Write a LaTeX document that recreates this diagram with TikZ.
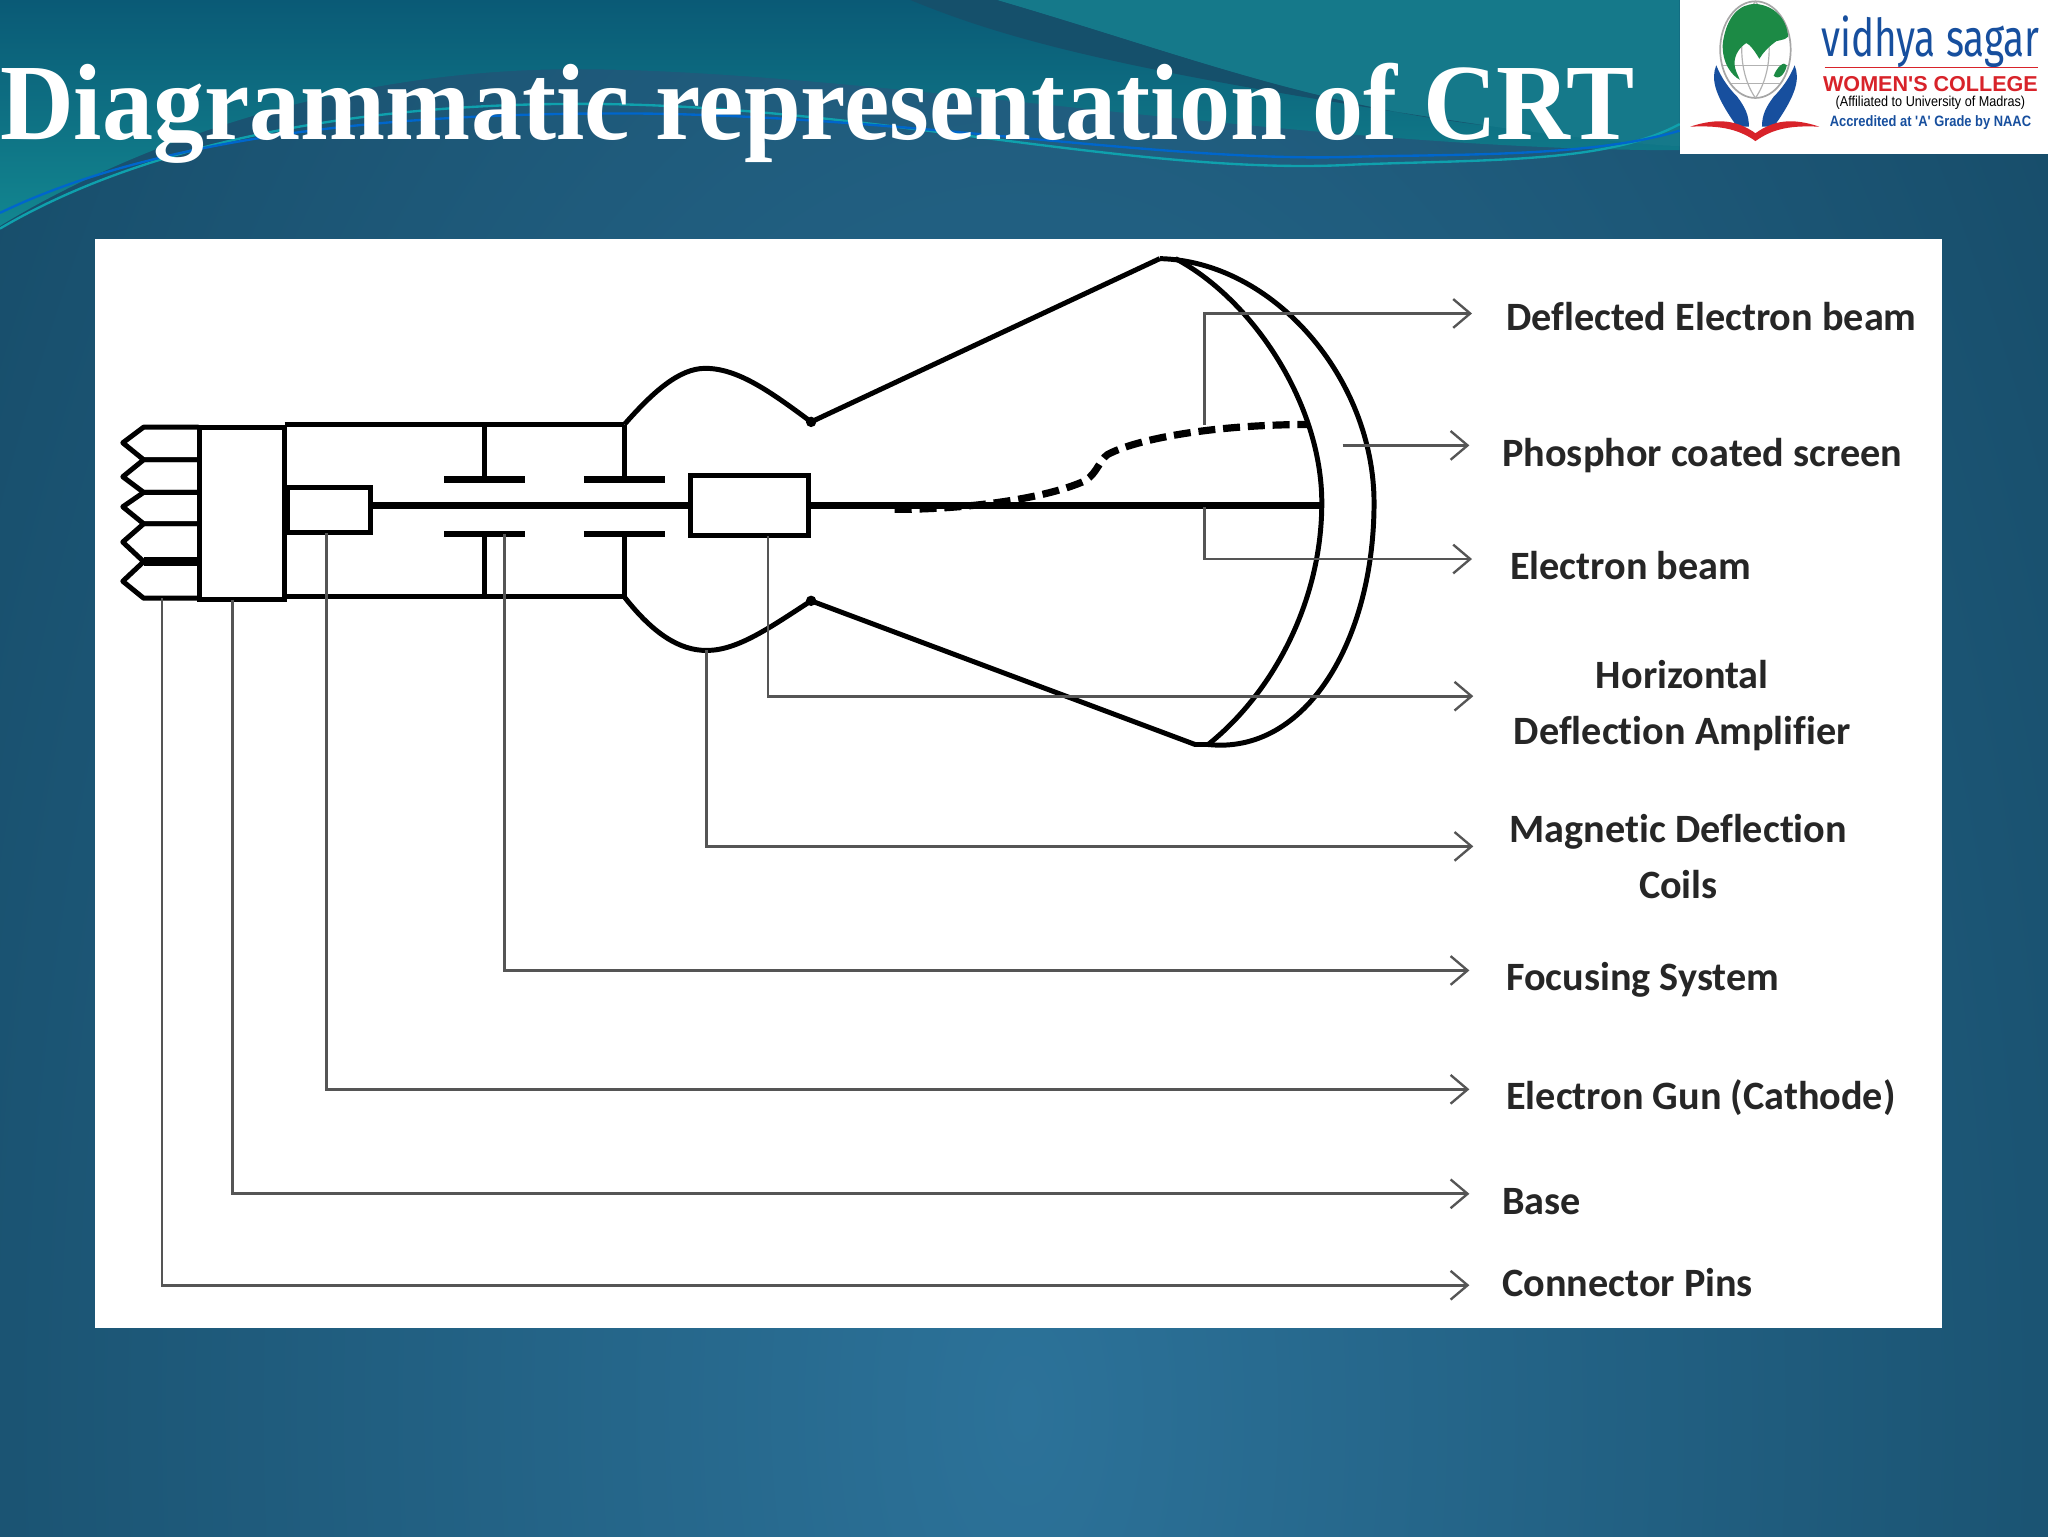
\documentclass[tikz,border=0pt]{standalone}
\usepackage{fontspec}
\setmainfont{Liberation Serif}
\setsansfont[Ligatures=NoCommon]{Carlito}
\newfontfamily\logosans{Liberation Sans}
\newfontfamily\logothin{Fira Sans}
\usetikzlibrary{arrows.meta}
\definecolor{deepteal}{HTML}{0C3A52}
\definecolor{midblue}{HTML}{2C7299}
\definecolor{wavetop}{HTML}{0A5A76}
\definecolor{wavemid}{HTML}{0C6F8C}
\definecolor{wavelow}{HTML}{128690}
\definecolor{bandteal}{HTML}{15798A}
\definecolor{wavedark}{HTML}{15506B}
\definecolor{globegreen}{HTML}{1C8A45}
\definecolor{handblue}{HTML}{174F9E}
\definecolor{bookred}{HTML}{D8232A}
\definecolor{leadergray}{HTML}{555555}
\tikzset{
    tube/.style={draw=black, line width=3.8pt, line join=round},
    plate/.style={draw=black, line width=5pt},
    partbox/.style={draw=black, line width=3.8pt, fill=white, inner sep=0pt},
    leader/.style={draw=leadergray, line width=2.2pt, -{Straight Barb[length=13pt,width=22pt,line width=1.8pt]}},
    partname/.style={font=\sffamily\bfseries\fontsize{30.8}{43}\selectfont, text=black!85, align=center, inner sep=0pt},
}
\begin{document}
\begin{tikzpicture}[x=1pt,y=-1pt]
        \useasboundingbox (0,0) rectangle (1568,1176);
        \begin{scope}
            \clip (0,0) rectangle (1568,1176);
            \shade[inner color=midblue, outer color=deepteal] (784,1080) ellipse (1450 and 2700);
            \shade[top color=wavetop, middle color=wavemid, bottom color=wavelow] (0,0) -- (0,173) .. controls (70,130) and (230,53) .. (440,53) .. controls (660,53) and (1000,115) .. (1286,115) -- (1286,0) -- cycle;
            \fill[bandteal] (763,0) .. controls (900,40) and (1000,80) .. (1137,96) .. controls (1200,105) and (1250,110) .. (1286,112) -- (1286,0) -- cycle;
            \fill[wavedark] (697,0) .. controls (770,30) and (860,55) .. (1137,96) .. controls (1000,80) and (900,40) .. (763,0) -- cycle;
            \draw[bandteal!70!cyan, line width=1.8pt] (0,175) .. controls (110,110) and (280,75) .. (480,80) .. controls (680,85) and (880,135) .. (1037,126) .. controls (1140,122) and (1230,125) .. (1286,95);
            \draw[blue!50!cyan!80!black, line width=1.8pt] (0,163) .. controls (120,105) and (300,85) .. (498,87) .. controls (700,90) and (900,125) .. (1037,120) .. controls (1120,118) and (1220,120) .. (1286,100);
        \end{scope}

        \node[fill=white, draw=none, minimum width=1414pt, minimum height=834pt, inner sep=0pt] (panel) at (780,600) {};
        \node[fill=white, draw=none, minimum width=282pt, minimum height=118pt, inner sep=0pt] (logo) at (1427,59) {};

        \node[anchor=base west, inner sep=0pt, text=white, font=\bfseries\fontsize{83}{83}\selectfont] (title) at (0,107) {\scalebox{.942}[1]{Diagrammatic representation of CRT}};

        \draw[gray!70, line width=1.3pt] (1344,38) ellipse (27 and 37);
        \draw[gray!60, line width=0.9pt] (1344,1) .. controls (1330,20) and (1330,55) .. (1344,75);
        \draw[gray!60, line width=0.9pt] (1344,1) .. controls (1358,20) and (1358,55) .. (1344,75);
        \draw[gray!60, line width=0.9pt] (1319,50) -- (1369,50);
        \draw[gray!60, line width=0.9pt] (1325,64) -- (1363,64);
        \fill[globegreen] (1319,33) .. controls (1322,12) and (1332,3) .. (1344,3) .. controls (1358,4) and (1368,14) .. (1369,28) .. controls (1365,32) and (1360,30) .. (1358,33) .. controls (1354,36) and (1350,40) .. (1347,45) .. controls (1344,40) and (1340,34) .. (1337,33) .. controls (1332,36) and (1328,42) .. (1328,48) .. controls (1328,54) and (1331,58) .. (1332,61) .. controls (1326,58) and (1318,48) .. (1319,33) -- cycle;
        \fill[globegreen] (1358,58) .. controls (1360,52) and (1366,46) .. (1368,50) .. controls (1367,56) and (1362,62) .. (1358,58) -- cycle;
        \fill[handblue] (1314,50) .. controls (1310,60) and (1312,72) .. (1330,97) -- (1339,97) .. controls (1339,88) and (1336,82) .. (1330,74) .. controls (1324,68) and (1318,60) .. (1314,50) -- cycle;
        \fill[handblue] (1374,50) .. controls (1378,60) and (1376,72) .. (1358,97) -- (1349,97) .. controls (1349,88) and (1352,82) .. (1358,74) .. controls (1364,68) and (1370,60) .. (1374,50) -- cycle;
        \fill[bookred] (1294,97) .. controls (1315,90) and (1330,92) .. (1344,102) .. controls (1358,92) and (1372,90) .. (1393,97) .. controls (1372,96) and (1358,98) .. (1344,108) .. controls (1330,98) and (1315,96) .. (1294,97) -- cycle;

        \node[inner sep=0pt, text=handblue, font=\logothin\fontsize{40}{40}\selectfont] (college) at (1478,32) {\scalebox{.74}[1]{vidhya sagar}};
        \node[inner sep=0pt, text=bookred, font=\logosans\bfseries\fontsize{16.5}{16.5}\selectfont] (women) at (1478,64) {WOMEN'S COLLEGE};
        \node[inner sep=0pt, text=black, font=\logosans\fontsize{11}{11}\selectfont] (affiliated) at (1478,79) {\scalebox{.88}[1]{(Affiliated to University of Madras)}};
        \node[inner sep=0pt, text=handblue, font=\logosans\bfseries\fontsize{11.5}{11.5}\selectfont] (accredited) at (1478,94) {\scalebox{.86}[1]{Accredited at 'A' Grade by NAAC}};
        \draw[bookred, line width=0.7pt] (1397,52) -- (1560,52);

        \coordinate (capleft) at (218,325);
        \coordinate (neckup) at (478,325);
        \coordinate (cablow) at (218,457);
        \coordinate (necklow) at (478,457);
        \coordinate (waistup) at (621,323);
        \coordinate (waistlow) at (621,460);
        \coordinate (rimup) at (888,198);
        \coordinate (rimlow) at (925,570);

        \draw[tube] (capleft) -- (neckup);
        \draw[tube] (cablow) -- (necklow);
        \draw[tube] (neckup) .. controls (500,300) and (520,282) .. (540,282) .. controls (565,282) and (590,300) .. (waistup) -- (rimup);
        \draw[tube] (necklow) .. controls (500,485) and (520,498) .. (541,498) .. controls (565,498) and (590,480) .. (waistlow) -- (915,570) -- (rimlow);
        \draw[tube] (rimup) .. controls (975,200) and (1052,290) .. (1052,385) .. controls (1052,490) and (1000,578) .. (rimlow);
        \draw[tube] (900,198) .. controls (960,230) and (1012,310) .. (1012,385) .. controls (1012,460) and (975,530) .. (rimlow);
        \fill[black] (waistup) circle (4);
        \fill[black] (waistlow) circle (4);

        \node[partbox, minimum width=65pt, minimum height=132pt] (base) at (185.5,393) {};
        \node[partbox, minimum width=64pt, minimum height=35pt] (gun) at (252,390.5) {};
        \node[partbox, minimum width=90pt, minimum height=46pt] (yoke) at (574,387) {};

        \draw[tube] (152,327) -- (110,327) -- (94,339) -- (110,352) -- (152,352);
        \draw[tube] (152,352) -- (110,352) -- (94,365) -- (110,377) -- (152,377);
        \draw[tube] (152,377) -- (110,377) -- (94,388) -- (110,401) -- (152,401);
        \draw[tube] (152,401) -- (110,401) -- (94,415) -- (110,430) -- (152,430);
        \draw[tube] (152,430) -- (110,430) -- (94,445) -- (110,458) -- (152,458);
        \draw[draw=black, line width=7pt] (110,430) -- (152,430);

        \draw[plate] (gun.east |- yoke.west) -- (yoke.west);
        \draw[plate] (yoke.east) -- (1012,387);

        \coordinate (plateA) at (371,367);
        \coordinate (plateB) at (478,367);
        \coordinate (plateC) at (371,409);
        \coordinate (plateD) at (478,409);

        \draw[plate] (340,367) -- (402,367);
        \draw[plate] (447,367) -- (509,367);
        \draw[plate] (340,409) -- (402,409);
        \draw[plate] (447,409) -- (509,409);
        \draw[tube] (plateA |- capleft) -- (plateA);
        \draw[tube] (neckup) -- (plateB);
        \draw[tube] (plateC |- cablow) -- (plateC);
        \draw[tube] (necklow) -- (plateD);

        \draw[tube, line width=5.5pt, dash pattern=on 13pt off 6pt] (685,390) .. controls (740,390) and (800,382) .. (831,368) .. controls (840,362) and (842,352) .. (848,348) .. controls (870,336) and (930,325) .. (1002,325);

        \node[partname, anchor=west] (ldeflected) at (1153,242) {Deflected Electron beam};
        \node[partname, anchor=west] (lphosphor) at (1150,349) {Phosphor coated screen};
        \node[partname, anchor=west] (lbeam) at (1156,433) {Electron beam};
        \node[partname] (lamplifier) at (1288,540) {Horizontal\\Deflection Amplifier};
        \node[partname] (lcoils) at (1285,656) {Magnetic Deflection\\Coils};
        \node[partname, anchor=west] (lfocus) at (1153,750) {Focusing System};
        \node[partname, anchor=west] (lcathode) at (1153,840) {Electron Gun (Cathode)};
        \node[partname, anchor=west] (lbase) at (1150,920) {Base};
        \node[partname, anchor=west] (lpins) at (1150,982) {Connector Pins};

        \coordinate (tipdeflected) at (1127,240);
        \coordinate (tipphosphor) at (1125,341);
        \coordinate (tipbeam) at (1127,428);
        \coordinate (tipamplifier) at (1128,533);
        \coordinate (tipcoils) at (1128,648);
        \coordinate (tipfocus) at (1125,743);
        \coordinate (tipcathode) at (1125,834);
        \coordinate (tipbase) at (1125,914);
        \coordinate (tippins) at (1125,984);

        \coordinate (fromdeflected) at (922,325);
        \coordinate (fromphosphor) at (1028,341);
        \coordinate (frombeam) at (922,388);
        \coordinate (fromamplifier) at (588,410);
        \coordinate (fromcoils) at (541,498);
        \coordinate (fromfocus) at (386,409);
        \coordinate (fromcathode) at (250,408);
        \coordinate (frombase) at (178,459);
        \coordinate (frompins) at (124,458);

        \draw[leader] (fromdeflected) |- (tipdeflected);
        \draw[leader] (fromphosphor) -- (tipphosphor);
        \draw[leader] (frombeam) |- (tipbeam);
        \draw[leader] (fromamplifier) |- (tipamplifier);
        \draw[leader] (fromcoils) |- (tipcoils);
        \draw[leader] (fromfocus) |- (tipfocus);
        \draw[leader] (fromcathode) |- (tipcathode);
        \draw[leader] (frombase) |- (tipbase);
        \draw[leader] (frompins) |- (tippins);
    \end{tikzpicture}
\end{document}
